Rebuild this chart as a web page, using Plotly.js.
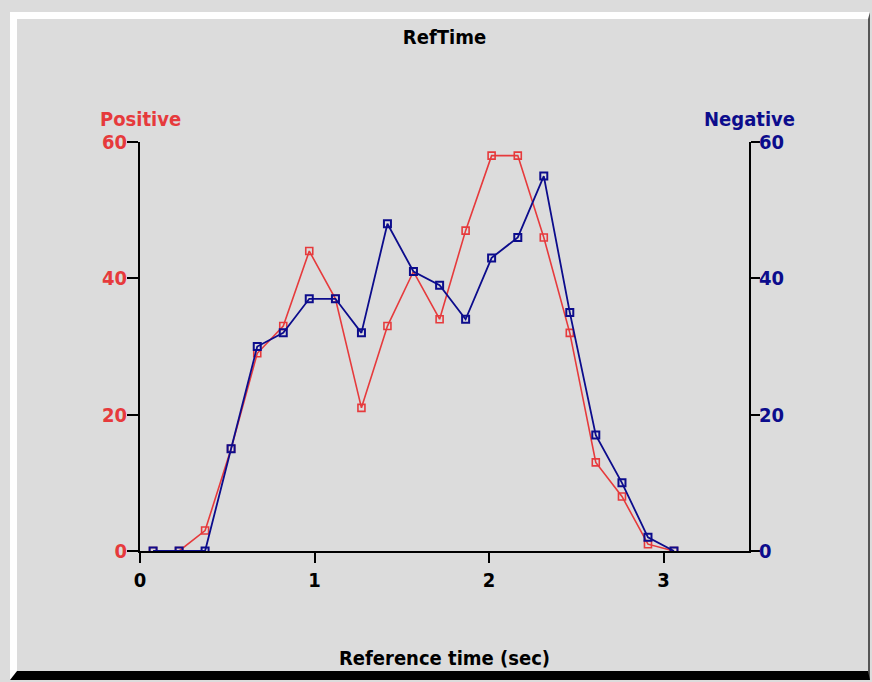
<!DOCTYPE html>
<html>
<head>
<meta charset="utf-8">
<script src="https://cdn.plot.ly/plotly-3.0.1.min.js"></script>
<style>
  html, body { margin: 0; padding: 0; background: #dcdcdc; width: 872px; height: 682px; overflow: hidden; }
  #frame { position: absolute; left: 10px; top: 12px; width: 860px; height: 668px; box-sizing: border-box;
           border-left: 7px solid #ffffff; border-top: 7px solid #ffffff; border-bottom: 9px solid #000000;
           border-right: 2px solid #555555; background: #dcdcdc; }
  #chart { position: absolute; left: 0; top: 0; width: 872px; height: 682px; }
</style>
</head>
<body>
<div id="frame"></div>
<div id="chart"></div>
<script>
// Reference time (sec) for each bin
const refTime = [0.075, 0.224, 0.373, 0.522, 0.672, 0.821, 0.970, 1.120, 1.269, 1.418, 1.567,
                 1.717, 1.866, 2.015, 2.165, 2.314, 2.463, 2.612, 2.762, 2.911, 3.060];
// Counts
const positive = [0, 0, 3, 15, 29, 33, 44, 37, 21, 33, 41, 34, 47, 58, 58, 46, 32, 13, 8, 1, 0];
const negative = [0, 0, 0, 15, 30, 32, 37, 37, 32, 48, 41, 39, 34, 43, 46, 55, 35, 17, 10, 2, 0];
// Tick labels
const xTicks = [0, 1, 2, 3];
const yTicks = [0, 20, 40, 60];

const RED = '#e63a3c';
const BLUE = '#0c0c8c';
const FONT = '"DejaVu Sans Condensed", "Liberation Sans Narrow", "Liberation Sans", Arial, sans-serif';

const traces = [
  {
    x: refTime, y: positive, name: 'Positive', type: 'scatter', mode: 'lines+markers', yaxis: 'y',
    line: { color: RED, width: 1.6 },
    marker: { symbol: 'square-open', size: 7, color: RED, line: { color: RED, width: 1.6 } }
  },
  {
    x: refTime, y: negative, name: 'Negative', type: 'scatter', mode: 'lines+markers', yaxis: 'y2',
    line: { color: BLUE, width: 1.8 },
    marker: { symbol: 'square-open', size: 7, color: BLUE, line: { color: BLUE, width: 2 } }
  }
];

const layout = {
  width: 872, height: 682,
  margin: { l: 140, r: 123, t: 142, b: 131, pad: 0 },
  paper_bgcolor: 'rgba(0,0,0,0)',
  plot_bgcolor: 'rgba(0,0,0,0)',
  showlegend: false,
  font: { family: FONT, size: 19, color: '#000000' },
  title: { text: '<b>RefTime</b>', x: 0.5, xref: 'paper', xanchor: 'center', y: 1 - 37 / 682, yanchor: 'middle',
           font: { family: FONT, size: 20, color: '#000000' } },
  xaxis: {
    range: [0, 3.49], tickmode: 'array', tickvals: xTicks, ticktext: xTicks.map(v => '<b>' + v + '</b>'),
    showgrid: false, zeroline: false, showline: true, linecolor: '#000000', linewidth: 2,
    ticks: 'outside', ticklen: 10, tickwidth: 2, tickcolor: '#000000',
    tickfont: { family: FONT, size: 20, color: '#000000' },
    title: { text: '<b>Reference time (sec)</b>', standoff: 60, font: { family: FONT, size: 20, color: '#000000' } },
    fixedrange: true
  },
  yaxis: {
    range: [0, 60], tickmode: 'array', tickvals: yTicks, ticktext: yTicks.map(v => '<b>' + v + '</b>'),
    showgrid: false, zeroline: false, showline: true, linecolor: '#000000', linewidth: 2,
    ticks: 'outside', ticklen: 11, tickwidth: 2, tickcolor: '#000000', ticklabelstandoff: -4,
    tickfont: { family: FONT, size: 20, color: RED }, fixedrange: true
  },
  yaxis2: {
    range: [0, 60], overlaying: 'y', side: 'right', tickmode: 'array', tickvals: yTicks,
    ticktext: yTicks.map(v => '<b>' + v + '</b>'),
    showgrid: false, zeroline: false, showline: true, linecolor: '#000000', linewidth: 2,
    ticks: 'outside', ticklen: 9, tickwidth: 2, tickcolor: '#000000', ticklabelstandoff: -5,
    tickfont: { family: FONT, size: 20, color: BLUE }, fixedrange: true
  },
  annotations: [
    { text: '<b>Positive</b>', xref: 'paper', yref: 'paper', x: 0, y: 1 + 23 / 409, xanchor: 'center', yanchor: 'middle',
      showarrow: false, font: { family: FONT, size: 20, color: RED } },
    { text: '<b>Negative</b>', xref: 'paper', yref: 'paper', x: 1, y: 1 + 23 / 409, xanchor: 'center', yanchor: 'middle',
      showarrow: false, font: { family: FONT, size: 20, color: BLUE } }
  ]
};

Plotly.newPlot('chart', traces, layout, { displayModeBar: false, staticPlot: true });
</script>
</body>
</html>
